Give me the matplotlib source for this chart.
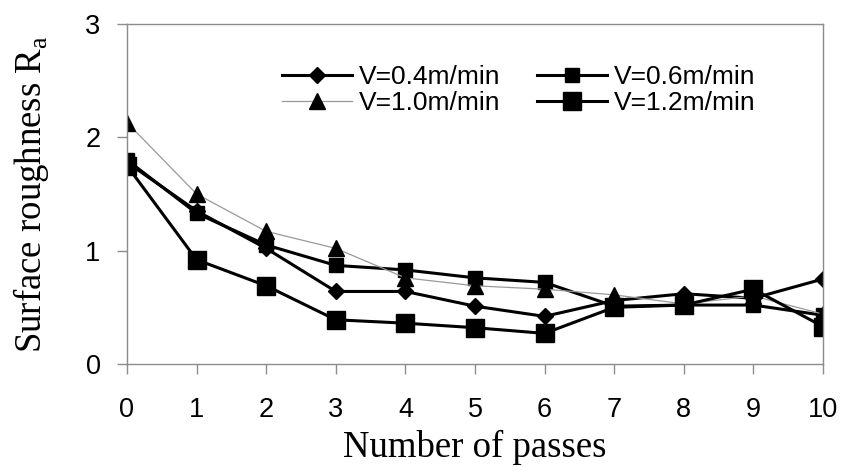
import matplotlib
matplotlib.use("Agg")
import matplotlib.pyplot as plt

passes = [0, 1, 2, 3, 4, 5, 6, 7, 8, 9, 10]
ra_04 = [1.78, 1.35, 1.02, 0.64, 0.64, 0.51, 0.42, 0.56, 0.62, 0.58, 0.75]
ra_06 = [1.80, 1.33, 1.05, 0.87, 0.83, 0.76, 0.72, 0.51, 0.52, 0.52, 0.43]
ra_10 = [2.13, 1.50, 1.17, 1.02, 0.76, 0.69, 0.66, 0.61, 0.53, 0.60, 0.44]
ra_12 = [1.75, 0.92, 0.69, 0.39, 0.36, 0.32, 0.27, 0.50, 0.52, 0.66, 0.33]
labels = ["V=0.4m/min", "V=0.6m/min", "V=1.0m/min", "V=1.2m/min"]

sans = "Liberation Sans"
serif = "Liberation Serif"
grey = "#8c8c8c"

fig = plt.figure(figsize=(8.41, 4.67), dpi=100)
ax = fig.add_axes([0.151, 0.2206, 0.8276, 0.728])

l1, = ax.plot(passes, ra_04, color="black", lw=2.2, marker="D", ms=8)
l2, = ax.plot(passes, ra_06, color="black", lw=2.2, marker="s", ms=9.5)
l3, = ax.plot(passes, ra_10, color="#999999", lw=0.9, marker="^", ms=11,
              mfc="black", mec="black")
l4, = ax.plot(passes, ra_12, color="black", lw=2.2, marker="s", ms=12.5)

ax.set_xlim(0, 10)
ax.set_ylim(0, 3)
ax.set_xticks(passes)
ax.set_yticks([0, 1, 2, 3])
for s in ax.spines.values():
    s.set_color(grey)
    s.set_linewidth(1.0)
ax.tick_params(direction="out", length=7, width=1.0, color=grey,
               labelsize=19.5)
ax.tick_params(axis="x", pad=17)
ax.tick_params(axis="y", pad=12)
for t in ax.get_xticklabels() + ax.get_yticklabels():
    t.set_fontfamily(sans)

ax.set_xlabel("Number of passes", fontfamily=serif, fontsize=26.5, labelpad=5)
ax.set_ylabel("Surface roughness R$_\\mathregular{a}$", fontfamily=serif,
              fontsize=26.5, labelpad=25)

# legend fills column by column, so order to get 0.4/0.6 on the top row
ax.legend([l1, l3, l2, l4], [labels[0], labels[2], labels[1], labels[3]],
          ncol=2, frameon=False, loc="upper left",
          bbox_to_anchor=(0.223, 0.88), prop={"family": sans, "size": 19},
          handlelength=2.65, handletextpad=0.25, columnspacing=1.4,
          labelspacing=0.08, borderaxespad=0, borderpad=0)

fig.savefig("out.png", dpi=100)
